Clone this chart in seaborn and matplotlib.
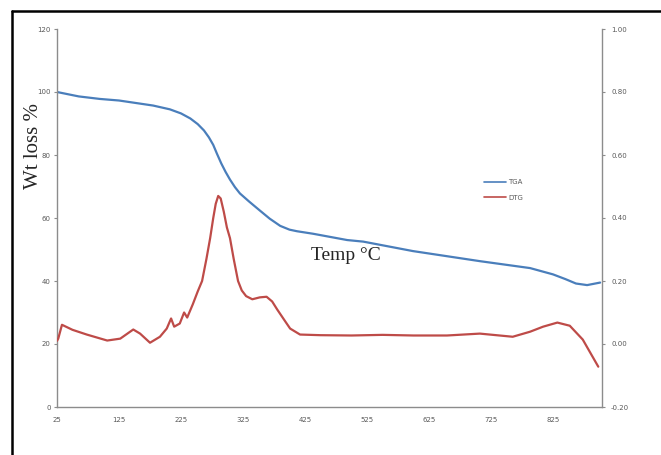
import numpy as np
import pandas as pd
import matplotlib
matplotlib.use("Agg")
import matplotlib.pyplot as plt
import seaborn as sns
from matplotlib.lines import Line2D

# ---- data ----
tga_temp = [25, 60, 94, 125, 180, 207, 225, 240, 252, 262, 270, 277, 283,
            290, 297, 304, 312, 320, 335, 352, 368, 385, 400, 412, 438, 493,
            519, 599, 707, 788, 825, 845, 862, 880, 901]
tga_wt = [100, 98.6, 97.8, 97.3, 95.7, 94.5, 93.2, 91.6, 89.8, 87.8, 85.6,
          83.2, 80.4, 77.3, 74.6, 72.2, 69.8, 67.8, 65.2, 62.4, 59.8, 57.5,
          56.3, 55.8, 55.0, 53.0, 52.5, 49.5, 46.3, 44.1, 42.1, 40.6, 39.2,
          38.7, 39.5]

dtg_temp = [25, 27, 33, 50, 73, 106, 127, 140, 148, 159, 175, 191, 202, 209,
            214, 223, 230, 235, 244, 252, 259, 266, 272, 277, 281, 285, 289,
            294, 299, 304, 310, 317, 323, 330, 340, 352, 363, 372, 380, 392,
            401, 417, 450, 500, 550, 600, 654, 707, 760, 788, 809, 832, 852,
            873, 898]
dtg_val = [0.010, 0.017, 0.061, 0.045, 0.030, 0.011, 0.017, 0.035, 0.046,
           0.033, 0.004, 0.023, 0.049, 0.081, 0.055, 0.065, 0.100, 0.084,
           0.126, 0.167, 0.200, 0.270, 0.336, 0.400, 0.445, 0.470, 0.462,
           0.420, 0.370, 0.336, 0.270, 0.200, 0.170, 0.152, 0.142, 0.148,
           0.150, 0.135, 0.110, 0.075, 0.049, 0.030, 0.028, 0.027, 0.029,
           0.027, 0.027, 0.033, 0.023, 0.039, 0.055, 0.068, 0.058, 0.014,
           -0.072]

x_ticks = [25, 125, 225, 325, 425, 525, 625, 725, 825]
left_ticks = [0, 20, 40, 60, 80, 100, 120]
right_ticks = [-0.20, 0.00, 0.20, 0.40, 0.60, 0.80, 1.00]

tga_df = pd.DataFrame({"Temp": tga_temp, "Wt": tga_wt})
dtg_df = pd.DataFrame({"Temp": dtg_temp, "DTG": dtg_val})

sns.set_style("white")
plt.rcParams["font.family"] = ["DejaVu Sans"]

BLUE = "#4A7EBB"
RED = "#BE4B48"
AXC = "#8C8C8C"
TXC = "#595959"

fig = plt.figure(figsize=(6.61, 4.55), dpi=100)
ax = fig.add_axes([57 / 661, 1 - 407 / 455, (602 - 57) / 661, (407 - 29) / 455])
ax2 = ax.twinx()

sns.lineplot(data=tga_df, x="Temp", y="Wt", ax=ax, color=BLUE, lw=1.6,
             label="TGA", legend=False)
sns.lineplot(data=dtg_df, x="Temp", y="DTG", ax=ax2, color=RED, lw=1.6,
             label="DTG", legend=False)

ax.set_xlim(25, 904)
ax.set_ylim(0, 120)
ax2.set_ylim(-0.20, 1.00)
ax.set_xticks(x_ticks)
ax.set_xticklabels([str(t) for t in x_ticks])
ax.set_yticks(left_ticks)
ax.set_yticklabels([str(t) for t in left_ticks])
ax2.set_yticks(right_ticks)
ax2.set_yticklabels([f"{t:.2f}" for t in right_ticks])
ax.set_xlabel("")
ax.set_ylabel("")
ax2.set_ylabel("")

for a in (ax, ax2):
    a.spines["top"].set_visible(False)
    for s in ("left", "right", "bottom"):
        a.spines[s].set_color(AXC)
        a.spines[s].set_linewidth(1.0)
    a.tick_params(axis="both", which="major", labelsize=5, labelcolor=TXC,
                  color=AXC, length=2.5, width=0.8, direction="out", pad=2)
ax2.spines["left"].set_visible(False)
ax2.spines["bottom"].set_visible(False)
ax.spines["right"].set_visible(False)
ax.tick_params(axis="x", pad=5)
ax2.tick_params(axis="y", pad=4)

# axis labels in the reference's serif font
fig.text(33 / 661, 1 - 146 / 455, "Wt loss %", rotation=90, ha="center",
         va="center", fontsize=15, family=["Liberation Serif", "DejaVu Serif"])
fig.text(346 / 661, 1 - 256 / 455, "Temp \u00b0C", fontsize=14,
         family=["Liberation Serif", "DejaVu Serif"], ha="center", va="center")

# legend
h1 = Line2D([], [], color=BLUE, lw=1.2)
h2 = Line2D([], [], color=RED, lw=1.2)
leg = fig.legend([h1, h2], ["TGA", "DTG"], loc="center left",
                 bbox_to_anchor=(478 / 661, 1 - 190 / 455), frameon=False,
                 fontsize=5, handlelength=3.2, handletextpad=0.3,
                 labelspacing=1.4, labelcolor=TXC)

# outer border (left and top visible)
fig.add_artist(Line2D([12 / 661, 12 / 661], [0, 1 - 11 / 455],
                      transform=fig.transFigure, color="black", lw=1.8))
fig.add_artist(Line2D([12 / 661, 1], [1 - 11 / 455, 1 - 11 / 455],
                      transform=fig.transFigure, color="black", lw=1.8))

fig.savefig("out.png", dpi=100)
